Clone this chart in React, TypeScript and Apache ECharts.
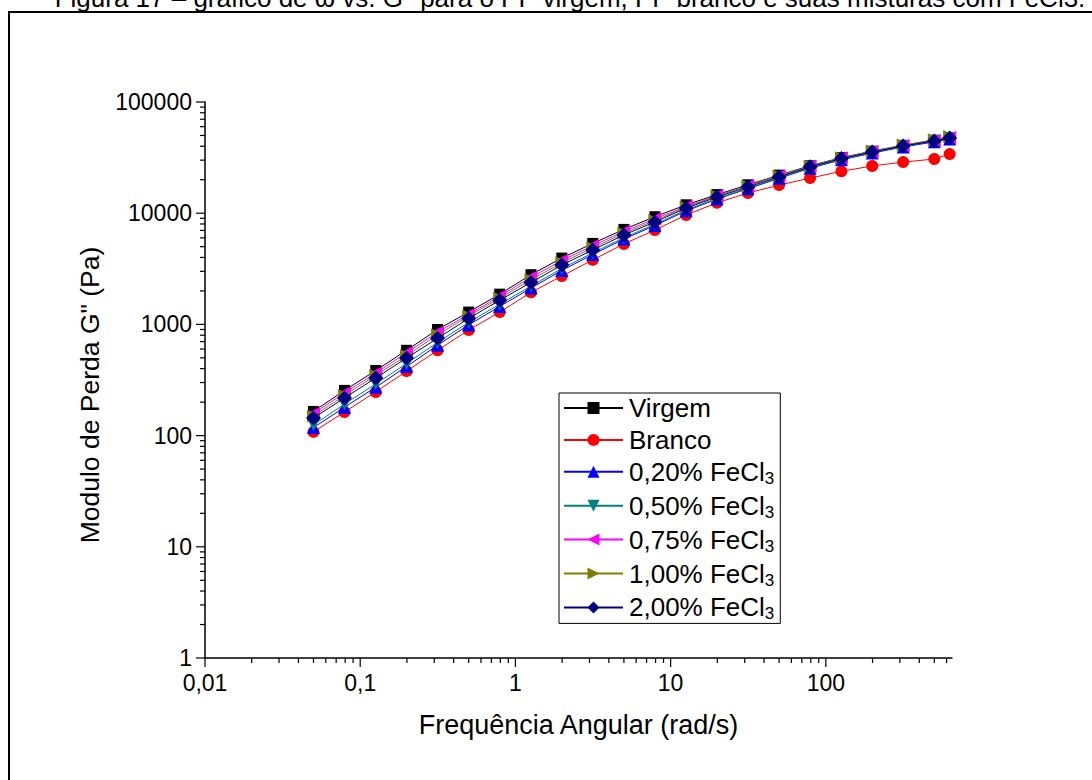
import React, { useEffect, useRef } from "react";
import * as echarts from "echarts";

const frequencies = [0.05, 0.0792, 0.126, 0.199, 0.315, 0.5, 0.792, 1.26, 1.99, 3.15, 5, 7.92, 12.6, 19.9, 31.5, 50, 79.2, 126, 199, 315, 500, 628];

const virgem = [165, 255, 385, 585, 900, 1290, 1870, 2800, 3950, 5350, 7150, 9300, 11900, 14700, 18000, 22000, 26700, 31600, 36100, 40800, 45200, 47900];
const branco = [108, 163, 247, 380, 585, 890, 1290, 1940, 2720, 3800, 5290, 7060, 9640, 12400, 15200, 17900, 20700, 23800, 26600, 28800, 30700, 34000];
const fe020 = [118, 180, 272, 418, 650, 990, 1450, 2120, 3060, 4250, 5850, 7750, 10500, 13400, 16600, 20600, 25400, 30200, 34700, 39400, 43800, 46500];
const fe050 = [125, 192, 292, 445, 690, 1045, 1520, 2210, 3180, 4400, 6020, 7950, 10700, 13600, 16800, 20800, 25700, 30500, 35000, 39800, 44300, 47000];
const fe075 = [158, 242, 365, 555, 850, 1230, 1790, 2650, 3750, 5100, 6850, 8900, 11500, 14400, 17700, 21700, 26400, 31300, 35800, 40500, 45000, 48000];
const fe100 = [150, 230, 348, 525, 805, 1190, 1720, 2520, 3580, 4880, 6600, 8600, 11300, 14300, 17600, 21600, 26500, 31500, 36200, 41000, 45800, 49000];
const fe200 = [144, 218, 330, 499, 750, 1130, 1650, 2380, 3420, 4670, 6370, 8340, 11100, 14000, 17200, 21200, 26100, 31000, 35500, 40200, 44600, 47500];

const seriesNames = ["Virgem", "Branco", "0,20% FeCl3", "0,50% FeCl3", "0,75% FeCl3", "1,00% FeCl3", "2,00% FeCl3"];
const seriesColors = ["#000000", "#FF0000", "#0000FF", "#008080", "#FF00FF", "#808000", "#000080"];
const seriesSymbols = ["rect", "circle", "triangle", "triangle", "triangle", "triangle", "diamond"];
const seriesRotations = [0, 0, 0, 180, 90, -90, 0];
const seriesSizes = [11, 12, 13, 13, 13, 13, 15];
const seriesValues = [virgem, branco, fe020, fe050, fe075, fe100, fe200];

const xMajorTicks = [0.01, 0.1, 1, 10, 100];
const xMinorTicks = [0.02, 0.03, 0.04, 0.05, 0.06, 0.07, 0.08, 0.09, 0.2, 0.3, 0.4, 0.5, 0.6, 0.7, 0.8, 0.9, 2, 3, 4, 5, 6, 7, 8, 9, 20, 30, 40, 50, 60, 70, 80, 90, 200, 300, 400, 500, 600];
const yMajorTicks = [1, 10, 100, 1000, 10000, 100000];
const yMinorTicks = [2, 3, 4, 5, 6, 7, 8, 9, 20, 30, 40, 50, 60, 70, 80, 90, 200, 300, 400, 500, 600, 700, 800, 900, 2000, 3000, 4000, 5000, 6000, 7000, 8000, 9000, 20000, 30000, 40000, 50000, 60000, 70000, 80000, 90000];

const X_MIN = 0.01;
const X_MAX = 650;
const Y_MIN = 1;
const Y_MAX = 100000;

const FONT = "'Liberation Sans', Arial, sans-serif";

function fmtLog(v: number): string {
  const e = Math.round(Math.log10(v));
  if (Math.abs(Math.log10(v) - e) > 1e-6) return "";
  if (e < 0) return "0," + "0".repeat(-e - 1) + "1";
  return String(Math.pow(10, e));
}

export default function App() {
  const ref = useRef<HTMLDivElement>(null);
  useEffect(() => {
    if (!ref.current) return;
    const chart = echarts.init(ref.current, null, { renderer: "svg" });

    const lineSeries = seriesNames.map((name, i) => ({
      name,
      type: "line",
      data: frequencies.map((f, j) => [f, seriesValues[i][j]]),
      symbol: seriesSymbols[i],
      symbolRotate: seriesRotations[i],
      symbolSize: seriesSizes[i],
      showSymbol: true,
      itemStyle: { color: seriesColors[i] },
      lineStyle: { color: seriesColors[i], width: 1 },
      z: 2 + i,
    }));

    const tickSeries = (data: number[][], len: number, vertical: boolean) => ({
      type: "custom",
      silent: true,
      clip: false,
      z: 20,
      data,
      renderItem: (params: any, api: any) => {
        const p = api.coord([api.value(0), api.value(1)]);
        const shape = vertical
          ? { x1: p[0], y1: p[1], x2: p[0], y2: p[1] + len }
          : { x1: p[0], y1: p[1], x2: p[0] - len, y2: p[1] };
        return { type: "line", shape, style: { stroke: "#000", lineWidth: 1.2 } };
      },
    });

    chart.setOption({
      animation: false,
      backgroundColor: "#ffffff",
      textStyle: { fontFamily: FONT },
      grid: { left: 205, right: 140, top: 102, bottom: 122 },
      graphic: [
        {
          type: "rect",
          shape: { x: 9, y: 12, width: 1100, height: 800 },
          style: { fill: "none", stroke: "#000", lineWidth: 2 },
          z: 0,
        },
        {
          type: "text",
          x: 570,
          y: 11,
          style: {
            text: "Figura 17 – gráfico de ω vs. G'' para o PP virgem, PP branco e suas misturas com FeCl3.",
            font: "26px " + FONT,
            fill: "#000",
            align: "center",
            verticalAlign: "bottom",
          },
        },
      ],
      xAxis: {
        type: "log",
        logBase: 10,
        min: X_MIN,
        max: X_MAX,
        name: "Frequência Angular (rad/s)",
        nameLocation: "middle",
        nameGap: 53,
        nameTextStyle: { fontSize: 27, color: "#000", fontFamily: FONT },
        axisLine: { lineStyle: { color: "#000", width: 1.5 } },
        axisTick: { show: false },
        splitLine: { show: false },
        axisLabel: { fontSize: 23, color: "#000", margin: 13, formatter: fmtLog, fontFamily: FONT },
      },
      yAxis: {
        type: "log",
        logBase: 10,
        min: Y_MIN,
        max: Y_MAX,
        name: 'Modulo de Perda G" (Pa)',
        nameLocation: "middle",
        nameGap: 102,
        nameTextStyle: { fontSize: 26.5, color: "#000", fontFamily: FONT, padding: [0, 30, 0, 0] },
        axisLine: { lineStyle: { color: "#000", width: 1.5 } },
        axisTick: { show: false },
        splitLine: { show: false },
        axisLabel: { fontSize: 23, color: "#000", margin: 13, formatter: fmtLog, fontFamily: FONT },
      },
      legend: {
        orient: "vertical",
        left: 559,
        top: 393,
        data: seriesNames,
        itemWidth: 59,
        itemHeight: 15,
        itemGap: 5.9,
        padding: [2, 6, 1, 4],
        borderColor: "#000",
        borderWidth: 1,
        backgroundColor: "#fff",
        selectedMode: false,
        formatter: (name: string) =>
          name.endsWith("FeCl3") ? `{a|${name.slice(0, -1)}}{s|3}` : `{a|${name}}`,
        textStyle: {
          fontFamily: FONT,
          rich: {
            a: { fontSize: 26, color: "#000", lineHeight: 30, fontFamily: FONT, padding: [0, 0, 0, 1] },
            s: { fontSize: 17, color: "#000", lineHeight: 30, verticalAlign: "bottom", fontFamily: FONT },
          },
        },
      },
      series: [
        ...lineSeries,
        tickSeries(xMajorTicks.map((v) => [v, Y_MIN]), 9, true),
        tickSeries(xMinorTicks.map((v) => [v, Y_MIN]), 5, true),
        tickSeries(yMajorTicks.map((v) => [X_MIN, v]), 9, false),
        tickSeries(yMinorTicks.map((v) => [X_MIN, v]), 5, false),
      ],
    });
    return () => chart.dispose();
  }, []);

  return (
    <div
      ref={ref}
      style={{ position: "absolute", left: 0, top: 0, width: 1092, height: 780 }}
    />
  );
}
